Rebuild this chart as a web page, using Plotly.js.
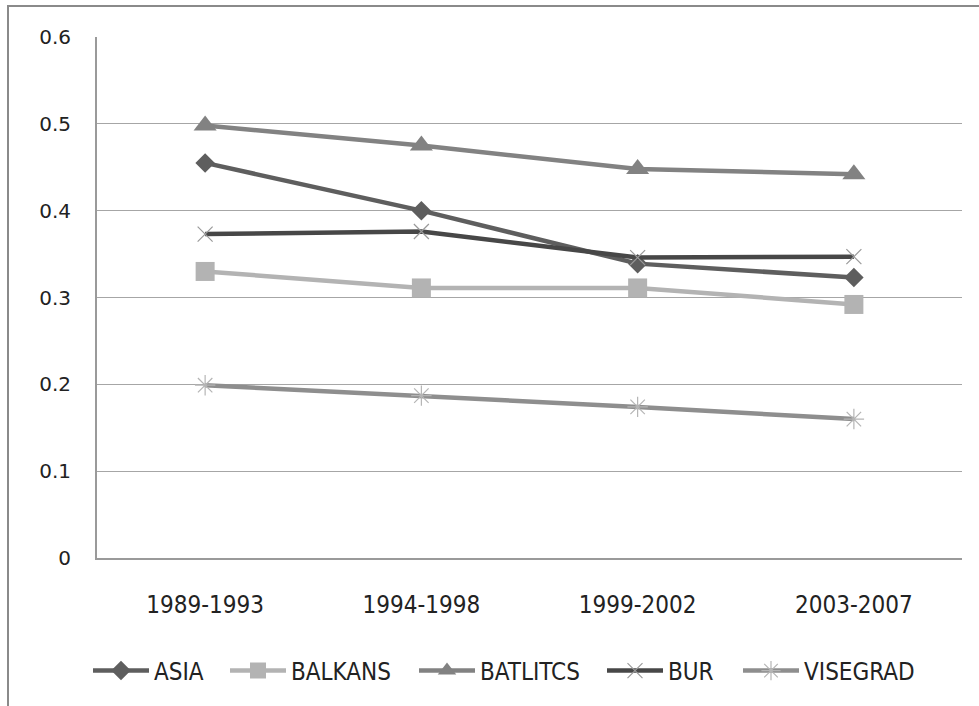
<!DOCTYPE html>
<html>
<head>
<meta charset="utf-8">
<script src="https://cdn.plot.ly/plotly-3.0.1.min.js"></script>
<style>
html,body{margin:0;padding:0;background:#fff;}
#chart{width:979px;height:706px;}
</style>
</head>
<body>
<div id="chart"></div>
<script>
const categories = ["1989-1993", "1994-1998", "1999-2002", "2003-2007"];
const asia = [0.455, 0.400, 0.339, 0.323];
const balkans = [0.330, 0.311, 0.311, 0.292];
const batlitcs = [0.498, 0.475, 0.448, 0.442];
const bur = [0.373, 0.376, 0.346, 0.347];
const visegrad = [0.199, 0.187, 0.174, 0.160];
const yTicks = [0, 0.1, 0.2, 0.3, 0.4, 0.5, 0.6];
const yTickText = ["0", "0.1", "0.2", "0.3", "0.4", "0.5", "0.6"];

function series(name, y, lineColor, symbol, size, mColor, mLine, legendId) {
  return {
    type: "scatter", mode: "lines+markers", name: name,
    x: categories, y: y, legend: legendId,
    line: {color: lineColor, width: 4.5},
    marker: {symbol: symbol, size: size, color: mColor,
             line: {color: mLine || mColor, width: mLine ? 1.2 : 0}}
  };
}

const data = [
  series("ASIA", asia, "#5e5e5e", "diamond", 15, "#5e5e5e", null, "legend"),
  series("BALKANS", balkans, "#b3b3b3", "square", 19, "#b3b3b3", null, "legend2"),
  series("BATLITCS", batlitcs, "#828282", "triangle-up", 20, "#828282", null, "legend3"),
  series("BUR", bur, "#474747", "x-thin-open", 15, "#9a9a9a", "#9a9a9a", "legend4"),
  series("VISEGRAD", visegrad, "#8e8e8e", "asterisk-open", 17, "#b5b5b5", "#b5b5b5", "legend5")
];

const L = 97, R = 17, T = 37, B = 148, W = 979, H = 706;
const pw = W - L - R, ph = H - T - B;
const narrow = "Liberation Sans Narrow, DejaVu Sans Condensed, sans-serif";

function leg(px) {
  return {
    orientation: "h", x: (px - L) / pw, xanchor: "left",
    y: (558 - 671) / ph, yanchor: "middle",
    font: {family: narrow, size: 24, color: "#222"},
    itemwidth: 56, bgcolor: "rgba(0,0,0,0)", borderwidth: 0
  };
}

const layout = {
  width: W, height: H,
  margin: {l: L, r: R, t: T, b: B},
  paper_bgcolor: "#fff", plot_bgcolor: "#fff",
  showlegend: true,
  font: {family: "DejaVu Sans, sans-serif", color: "#222"},
  xaxis: {
    type: "category", range: [-0.5, 3.5],
    showgrid: false, zeroline: false,
    showline: true, linecolor: "#9a9a9a", linewidth: 2,
    ticks: "", ticklabelstandoff: 24,
    tickfont: {family: narrow, size: 24, color: "#222"}
  },
  yaxis: {
    range: [0, 0.6], tickvals: yTicks, ticktext: yTickText,
    showgrid: true, gridcolor: "#a6a6a6", gridwidth: 1,
    zeroline: false, showline: true, linecolor: "#9a9a9a", linewidth: 2,
    ticks: "", ticklabelstandoff: 20,
    tickfont: {family: "DejaVu Sans, sans-serif", size: 20, color: "#222"}
  },
  legend: leg(88),
  legend2: leg(225),
  legend3: leg(414),
  legend4: leg(602),
  legend5: leg(738),
  shapes: [{
    type: "rect", xref: "paper", yref: "paper",
    x0: (8 - L) / pw, x1: (1010 - L) / pw,
    y0: (558 - 730) / ph, y1: 1 + (T - 6) / ph,
    line: {color: "#8a8a8a", width: 2}, fillcolor: "rgba(0,0,0,0)", layer: "below"
  }]
};

Plotly.newPlot("chart", data, layout, {displayModeBar: false, staticPlot: true});
</script>
</body>
</html>
